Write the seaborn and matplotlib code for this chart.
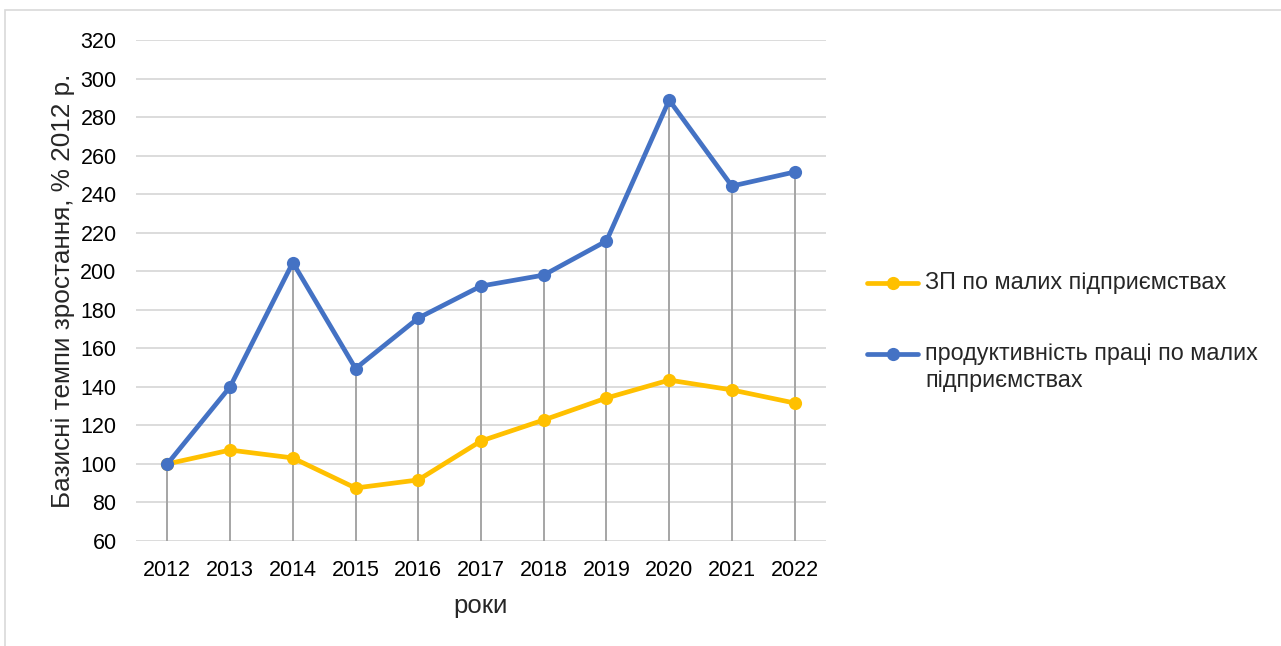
import matplotlib
matplotlib.use("Agg")
import matplotlib.pyplot as plt
import seaborn as sns
import pandas as pd
from matplotlib.patches import Rectangle
from matplotlib.lines import Line2D

years = ["2012", "2013", "2014", "2015", "2016", "2017", "2018", "2019", "2020", "2021", "2022"]
wages = [100, 107.2, 103.1, 87.5, 91.7, 111.9, 122.8, 134.2, 143.5, 138.4, 131.6]
productivity = [100, 140, 204.5, 149.5, 175.7, 192.3, 198, 215.7, 288.8, 244.2, 251.5]
label_wages = "ЗП по малих підприємствах"
label_prod = "продуктивність праці по малих\nпідприємствах"
yticks = list(range(60, 321, 20))

colors = {label_wages: "#FFC000", label_prod: "#4472C4"}

sns.set_theme(style="white")
plt.rcParams["font.family"] = ["Liberation Sans", "DejaVu Sans"]

W, H = 1281, 646
fig = plt.figure(figsize=(W / 100, H / 100), dpi=100)
ax = fig.add_axes([136 / W, 1 - 541 / H, 690 / W, 501 / H])

df = pd.DataFrame({
    "year": years * 2,
    "value": wages + productivity,
    "series": [label_wages] * len(years) + [label_prod] * len(years),
})
pos = {y: i for i, y in enumerate(years)}
df["x"] = df["year"].map(pos)

# horizontal gridlines
for t in yticks:
    ax.axhline(t, color="#D9D9D9", lw=1.3, zorder=0)

# drop lines from the highest point down to the axis
tops = [max(a, b) for a, b in zip(wages, productivity)]
ax.vlines(range(len(years)), 60, tops, color="#A5A5A5", lw=1.4, zorder=1)

sns.lineplot(data=df, x="x", y="value", hue="series",
             palette=colors, hue_order=[label_wages, label_prod],
             marker="o", markersize=9.5, markeredgewidth=0, linewidth=3.4,
             ax=ax, legend=False, zorder=3)

ax.set_xlim(-0.5, len(years) - 0.5)
ax.set_ylim(60, 320)
ax.set_yticks(yticks)
ax.set_xticks(range(len(years)))
ax.set_xticklabels(years)
for s in ax.spines.values():
    s.set_visible(False)
ax.tick_params(axis="both", length=0, labelsize=15.5, colors="#000000")
ax.tick_params(axis="y", pad=14)
ax.tick_params(axis="x", pad=14)
ax.set_xlabel("роки", fontsize=18.5, labelpad=9)
ax.set_ylabel("Базисні темпи зростання, % 2012 р.", fontsize=18.8, labelpad=4)

# legend on the right
def legend_entry(y_px, color, text):
    yf = 1 - y_px / H
    fig.add_artist(Line2D([867 / W, 918 / W], [yf, yf], transform=fig.transFigure,
                          color=color, lw=3.4))
    fig.add_artist(Line2D([893 / W], [yf], transform=fig.transFigure,
                          color=color, marker="o", markersize=9.5, markeredgewidth=0))
    fig.text(925 / W, yf + 12 / H, text, fontsize=16.8, va="top", ha="left",
             linespacing=1.2, transform=fig.transFigure)

legend_entry(283, colors[label_wages], label_wages)
legend_entry(354, colors[label_prod], label_prod)

# chart frame
fig.patches.append(Rectangle((5 / W, -0.1), 1.2, 1 - 10 / H + 0.1,
                             transform=fig.transFigure, fill=False,
                             edgecolor="#D9D9D9", lw=1.2))

fig.savefig("out.png", dpi=100)
